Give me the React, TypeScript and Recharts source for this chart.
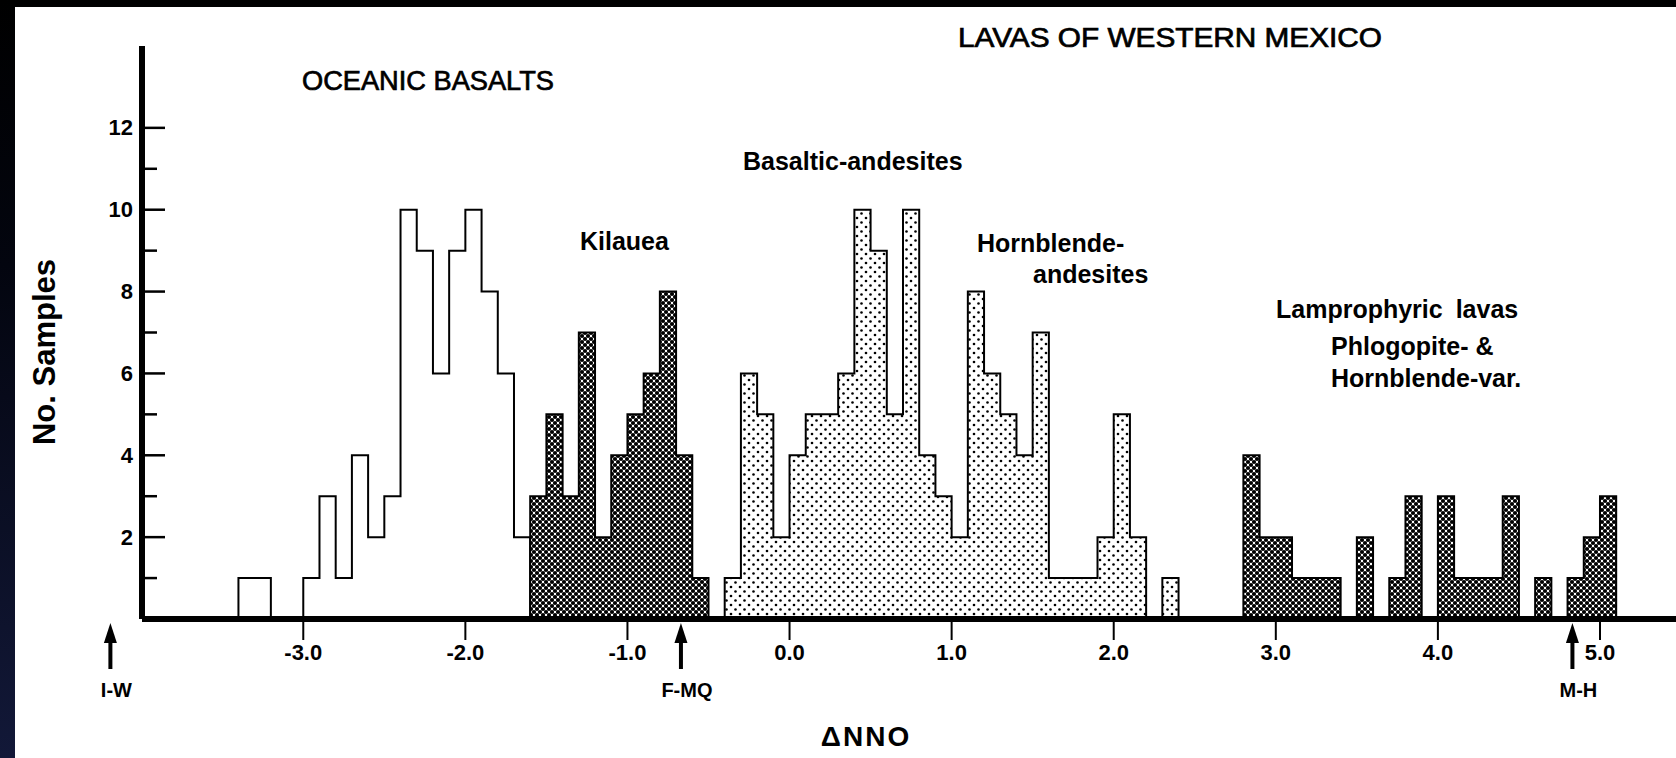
import React from "react";
import { ComposedChart, Area, XAxis, YAxis, ReferenceLine } from "recharts";

// bins are 0.1 ΔNNO wide, each list starts at the left edge given by *Start
const oceanicStart = -3.4;
const oceanicCounts = [1, 1, 0, 0, 1, 3, 1, 4, 2, 3, 10, 9, 6, 9, 10, 8, 6, 2];

const kilaueaStart = -1.6;
const kilaueaCounts = [3, 5, 3, 7, 2, 4, 5, 6, 8, 4, 1];

const andesiteStart = -0.4;
const andesiteCounts = [
  1, 6, 5, 2, 4, 5, 5, 6, 10, 9, 5, 10, 4, 3, 2, 8, 6, 5, 4, 7, 1, 1, 1, 2, 5, 2, 0, 1,
];

const lamproStart = 2.8;
const lamproCounts = [4, 2, 2, 1, 1, 1, 0, 2, 0, 1, 3, 0, 3, 1, 1, 1, 3, 0, 1, 0, 1, 2, 3];

const xTicks = [-3, -2, -1, 0, 1, 2, 3, 4, 5];
const yTicks = [1, 2, 3, 4, 5, 6, 7, 8, 9, 10, 11, 12];

const bufferNames = ["I-W", "F-MQ", "M-H"];
const bufferValues = [-4.19, -0.67, 4.83];

const FONT = "'Liberation Sans', Arial, Helvetica, sans-serif";
const NARROW = "'Liberation Sans Narrow', 'Liberation Sans', sans-serif";

function countAt(start: number, counts: number[], x: number) {
  const k = Math.round((x - start) * 10);
  return k >= 0 && k < counts.length ? counts[k] : 0;
}

const rows: any[] = [];
for (let i = -35; i <= 52; i++) {
  const x = i / 10;
  rows.push({
    x,
    oceanic: countAt(oceanicStart, oceanicCounts, x),
    kilauea: countAt(kilaueaStart, kilaueaCounts, x),
    andesite: countAt(andesiteStart, andesiteCounts, x),
    lampro: countAt(lamproStart, lamproCounts, x),
  });
}

const YTick = (props: any) => {
  const { x, y, payload } = props;
  const major = payload.value % 2 === 0;
  return (
    <g>
      <line x1={x} x2={x + (major ? 23 : 15)} y1={y} y2={y} stroke="#000" strokeWidth={2.5} />
      {major && (
        <text
          x={x - 9}
          y={y}
          textAnchor="end"
          dominantBaseline="central"
          fontSize={22}
          fontWeight={700}
          fontFamily={FONT}
          fill="#000"
        >
          {payload.value}
        </text>
      )}
    </g>
  );
};

const BufferArrow = (props: any) => {
  const { x1, y1, y2, name } = props;
  const base = Math.max(y1, y2);
  const tip = base + 4;
  return (
    <g>
      <path d={`M${x1 - 6.5},${tip + 20} L${x1},${tip} L${x1 + 6.5},${tip + 20} Z`} fill="#000" />
      <line x1={x1} x2={x1} y1={tip + 14} y2={base + 50} stroke="#000" strokeWidth={4} />
      <text
        x={x1 + 6}
        y={base + 78}
        textAnchor="middle"
        fontSize={20}
        fontWeight={700}
        fontFamily={FONT}
        fill="#000"
      >
        {name}
      </text>
    </g>
  );
};

export default function App() {
  return (
    <div
      style={{
        position: "absolute",
        left: 0,
        top: 0,
        width: 1676,
        height: 758,
        overflow: "hidden",
        background: "linear-gradient(180deg, #000 0%, #03050f 35%, #121838 100%)",
      }}
    >
      <div style={{ position: "absolute", left: 15, top: 7, right: 0, bottom: 0, background: "#fff" }} />
      <div style={{ position: "absolute", left: 0, top: 0 }}>
        <ComposedChart width={1676} height={758} data={rows} margin={{ top: 46, right: 0, bottom: 0, left: 0 }}>
          <defs>
            <pattern id="dense" width="6" height="6" patternUnits="userSpaceOnUse">
              <rect width="6" height="6" fill="#fff" />
              <circle cx="0" cy="0" r="2.1" fill="#000" />
              <circle cx="6" cy="0" r="2.1" fill="#000" />
              <circle cx="0" cy="6" r="2.1" fill="#000" />
              <circle cx="6" cy="6" r="2.1" fill="#000" />
              <circle cx="3" cy="3" r="2.1" fill="#000" />
            </pattern>
            <pattern id="sparse" width="9" height="9" patternUnits="userSpaceOnUse">
              <rect width="9" height="9" fill="#fff" />
              <circle cx="2" cy="2" r="1.3" fill="#000" />
              <circle cx="6.5" cy="6.5" r="1.3" fill="#000" />
            </pattern>
          </defs>
          <XAxis
            dataKey="x"
            type="number"
            domain={[-3.995, 5.469]}
            allowDataOverflow
            ticks={xTicks}
            interval={0}
            tickFormatter={(v: number) => v.toFixed(1)}
            axisLine={{ stroke: "#000", strokeWidth: 6 }}
            tickLine={{ stroke: "#000", strokeWidth: 2 }}
            tickSize={21}
            tickMargin={4}
            height={139}
            tick={{ fill: "#000", fontSize: 22, fontWeight: 700, fontFamily: FONT }}
          />
          <YAxis
            type="number"
            domain={[0, 14]}
            allowDataOverflow
            ticks={yTicks}
            interval={0}
            width={142}
            axisLine={{ stroke: "#000", strokeWidth: 6 }}
            tickLine={false}
            tickSize={0}
            tickMargin={0}
            tick={(p: any) => <YTick {...p} />}
          />
          <Area
            type="stepAfter"
            dataKey="oceanic"
            stroke="#000"
            strokeWidth={2}
            fill="#fff"
            fillOpacity={1}
            isAnimationActive={false}
          />
          <Area
            type="stepAfter"
            dataKey="andesite"
            stroke="#000"
            strokeWidth={2}
            fill="url(#sparse)"
            fillOpacity={1}
            isAnimationActive={false}
          />
          <Area
            type="stepAfter"
            dataKey="kilauea"
            stroke="#000"
            strokeWidth={2}
            fill="url(#dense)"
            fillOpacity={1}
            isAnimationActive={false}
          />
          <Area
            type="stepAfter"
            dataKey="lampro"
            stroke="#000"
            strokeWidth={2}
            fill="url(#dense)"
            fillOpacity={1}
            isAnimationActive={false}
          />
          {bufferValues.map((v, i) => (
            <ReferenceLine
              key={bufferNames[i]}
              x={v}
              ifOverflow="visible"
              stroke="none"
              shape={(p: any) => <BufferArrow {...p} name={bufferNames[i]} />}
            />
          ))}
        </ComposedChart>
      </div>
      <svg
        width={1676}
        height={758}
        style={{ position: "absolute", left: 0, top: 0, pointerEvents: "none" }}
        fontFamily={FONT}
        fill="#000"
      >
        {/* condensed caps titles: regular face squeezed to the reference width */}
        <g fontFamily={NARROW} fontSize={27} stroke="#000" strokeWidth={0.7} lengthAdjust="spacingAndGlyphs">
          <text x={958} y={47} textLength={424} lengthAdjust="spacingAndGlyphs">
            LAVAS  OF  WESTERN  MEXICO
          </text>
          <text x={302} y={90} textLength={252} lengthAdjust="spacingAndGlyphs">
            OCEANIC  BASALTS
          </text>
        </g>
        <g fontSize={25} fontWeight={700}>
          <text x={743} y={170}>Basaltic-andesites</text>
          <text x={580} y={250}>Kilauea</text>
          <text x={977} y={252}>Hornblende-</text>
          <text x={1033} y={283}>andesites</text>
          <text x={1276} y={318} wordSpacing={6}>Lamprophyric lavas</text>
          <text x={1331} y={355}>Phlogopite- &amp;</text>
          <text x={1331} y={387}>Hornblende-var.</text>
        </g>
        <text
          transform="translate(55,352) rotate(-90)"
          textAnchor="middle"
          fontSize={31}
          fontWeight={700}
        >
          No. Samples
        </text>
        <text x={866} y={746} textAnchor="middle" fontSize={28} fontWeight={700} letterSpacing={2}>
          ΔNNO
        </text>
      </svg>
    </div>
  );
}
